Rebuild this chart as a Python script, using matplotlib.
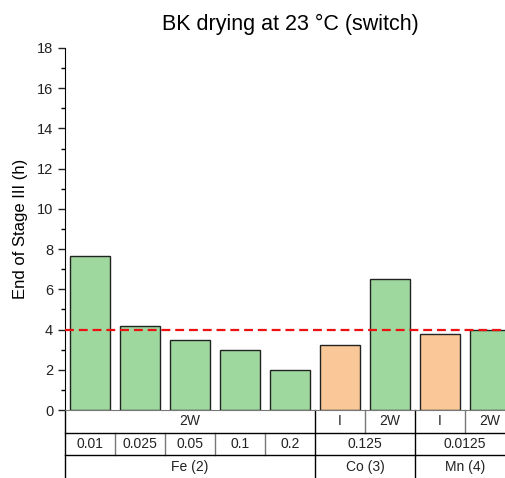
import matplotlib
matplotlib.use("Agg")
import matplotlib.pyplot as plt
import matplotlib.transforms as mtransforms

plt.rcParams['font.family'] = ['Liberation Sans', 'DejaVu Sans']

# Data
values = [7.65, 4.2, 3.5, 3.0, 2.0, 3.25, 6.5, 3.8, 4.0]
kinds = ['2W', '2W', '2W', '2W', '2W', 'I', '2W', 'I', '2W']
threshold = 4.0
title = "BK drying at 23 °C (switch)"
ylabel = "End of Stage III (h)"
yticks = [0, 2, 4, 6, 8, 10, 12, 14, 16, 18]

# table rows: (label, start index, end index inclusive)
row1 = [("2W", 0, 4), ("I", 5, 5), ("2W", 6, 6), ("I", 7, 7), ("2W", 8, 8)]
row2 = [("0.01", 0, 0), ("0.025", 1, 1), ("0.05", 2, 2), ("0.1", 3, 3),
        ("0.2", 4, 4), ("0.125", 5, 6), ("0.0125", 7, 8)]
row3 = [("Fe (2)", 0, 4), ("Co (3)", 5, 6), ("Mn (4)", 7, 8)]
group_bounds = [4.5, 6.5]

colors = {'2W': '#9ED89E', 'I': '#FAC898'}

W, H = 506, 478
fig = plt.figure(figsize=(W / 100, H / 100), dpi=100)
ax = fig.add_axes([65 / W, (H - 410) / H, 450 / W, 362 / H])

x = list(range(len(values)))
ax.bar(x, values, width=0.8, color=[colors[k] for k in kinds],
       edgecolor='#222222', linewidth=1.0, zorder=2)
ax.axhline(threshold, color='#ee1111', lw=1.6, dashes=(4, 2.2), zorder=3)

ax.set_xlim(-0.5, len(values) - 0.5)
ax.set_ylim(0, 18)
ax.set_yticks(yticks)
ax.set_yticks(range(0, 19), minor=True)
ax.tick_params(axis='y', which='major', direction='out', length=5, width=1,
               labelsize=10.5, colors='#222222')
ax.tick_params(axis='y', which='minor', direction='out', length=3, width=1)
ax.set_xticks([])
for s in ['top', 'right']:
    ax.spines[s].set_visible(False)
ax.spines['left'].set_color('black')
ax.spines['bottom'].set_color('#777777')
ax.set_ylabel(ylabel, fontsize=12, labelpad=6)
fig.text(290 / W, 1 - 24 / H, title, ha='center', va='center', fontsize=15.5)

# table below
trans = mtransforms.blended_transform_factory(ax.transData, ax.transAxes)
rh = 22.7 / 362
rows = [row1, row2, row3]
for r, row in enumerate(rows):
    ytop = -r * rh
    ybot = -(r + 1) * rh
    ymid = (ytop + ybot) / 2
    for lab, s, e in row:
        ax.text((s + e) / 2, ymid, lab, transform=trans, ha='center',
                va='center', fontsize=10, color='#222222', clip_on=False)
        # right boundary line
        xb = e + 0.5
        if xb < len(values) - 0.5:
            col = 'black' if xb in group_bounds else '#777777'
            ax.plot([xb, xb], [ytop, ybot], transform=trans, color=col,
                    lw=1, clip_on=False)
    if r > 0:
        ax.plot([-0.5, len(values) - 0.5], [ytop, ytop], transform=trans,
                color='black', lw=1, clip_on=False)
ax.plot([-0.5, -0.5], [0, -3 * rh], transform=trans, color='black', lw=1,
        clip_on=False)

fig.savefig("out.png", dpi=100)
